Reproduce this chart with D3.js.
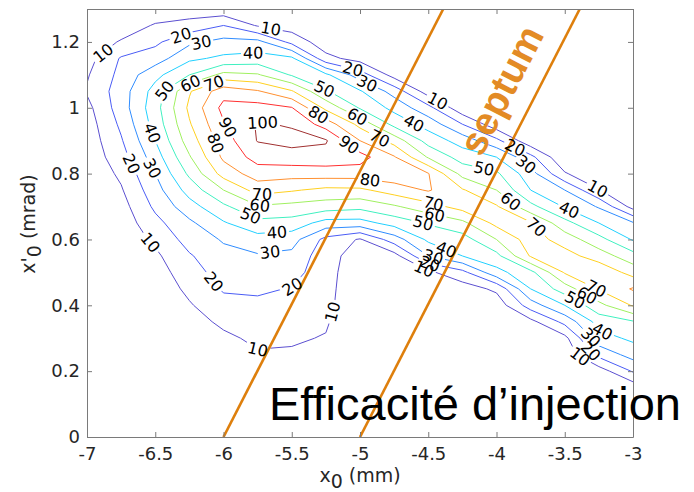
<!DOCTYPE html>
<html>
<head>
<meta charset="utf-8">
<script src="https://cdn.jsdelivr.net/npm/d3@7"></script>
<style>
  body { margin: 0; background: #fff; }
  svg { display: block; }
</style>
</head>
<body>
<svg id="canvas" width="694" height="492"></svg>
<script>
// sampling grid of the efficiency map: x0 (mm) and x'0 (mrad)
var gridX = [-7, -6.75, -6.5, -6.25, -6, -5.75, -5.5, -5.25, -5, -4.75, -4.5, -4.25, -4, -3.75, -3.5, -3.25, -3];
var gridY = [0, 0.05, 0.1, 0.15, 0.2, 0.25, 0.3, 0.35, 0.4, 0.45, 0.5, 0.55, 0.6, 0.65,
  0.7, 0.75, 0.8, 0.85, 0.9, 0.95, 1, 1.05, 1.1, 1.15, 1.2, 1.25, 1.3];

// injection efficiency (%), one column per x0, from x'0 = 0 upwards
var effCols = [
  [0,0,0,0,0,0,0,0,0,0,0,0,1,1,1,2,2,3,4,5,7,11,9,6,3,1,0],
  [0,0,0,0,0,0,0,0,0,1,1,2,3,4,6,9,12,16,19,22,25,25,23,21,11,4,0],
  [0,0,0,0,0,0,1,1,2,3,5,8,12,17,22,26,30,35,40,44,46,44,37,25,18,11,3],
  [0,0,0,0,1,2,4,6,9,12.5,16,19,24,28,36,44,52,59,65,69,72,69,50,38,28,14,4],
  [0,0,0,1,3,5,8,12,17,21,24,27,31,39,48,60,74,82,85,89,93,86,63,42,33,20,3],
  [0,0,1,3,5,9,12,15,18,21.5,25,29,36,47,59,74,85,94,100.5,101,94,81,61,44,33,9,2],
  [0,0,2,4,7,9,11,14,17,19.5,24,27.5,34,46,57,71,84,96,103,99,90.5,71,49,42,17,5,1],
  [0,0,1,3,5,7,9.5,11,12.5,13,13.5,14,17,36,55,67.5,85,96,101,85.5,67.4,51,42,13,4,1,0],
  [0,0,0,0,0,1,1.5,2,2.5,3,3.5,5,9,36,53,68,85,94,80,67,49,41,25,6,2,0,0],
  [0,0,0,0,0,0,0,0,1,2,3,6,25,44,58.7,74.7,87,81,66,47,37,26,6,3,1,0,0],
  [0,0,0,0,0,0,0,1,2,4,8,30,42,51,66,81,80.5,59,46,36,23,5,3,1,0,0,0],
  [0,0,0,0,0,0,0,1,2,5,17,40,45.5,57.5,74,71,56.7,45.6,35.8,20,3,1,0,0,0,0,0],
  [0,0,0,0,0,0,1,2,4,12,36.7,47,60,73,71,60,51.7,40,22.6,4,0,0,0,0,0,0,0],
  [0,0,0,0,0,1,3,7,25,40,47,71,75,71,53,40,34,23,3,0,0,0,0,0,0,0,0],
  [0,0,0,0,1,3,7,23,40,55,71,74,65.5,53.5,39,30,11,1,0,0,0,0,0,0,0,0,0],
  [0,0,1,2,5,23,36,44,57,71,78,65,53.5,40,29,10.5,1,0,0,0,0,0,0,0,0,0,0],
  [0,1,2,4,21,34,42,49,71,81,66,54,39,31,6,1,0,0,0,0,0,0,0,0,0,0,0]
];

var levels = [10, 20, 30, 40, 50, 60, 70, 80, 90, 100];
var levelColors = ['#5b4fd0', '#4a5cf5', '#2f8cff', '#22d0ff', '#40f0c0',
  '#a0f060', '#ffd020', '#ff9030', '#ff3030', '#a03030'];

var xTicks = [-7, -6.5, -6, -5.5, -5, -4.5, -4, -3.5, -3];
var xTickLabels = ['-7', '-6.5', '-6', '-5.5', '-5', '-4.5', '-4', '-3.5', '-3'];
var yTicks = [0, 0.2, 0.4, 0.6, 0.8, 1, 1.2];
var yTickLabels = ['0', '0.2', '0.4', '0.6', '0.8', '1', '1.2'];

// septum edges, from the bottom of the plot to the top
var septum = [[[-6, 0], [-4.39, 1.3]], [[-5, 0], [-3.39, 1.3]]];

// where the contour labels sit: x0, x'0, level
var labelAnchors = [
  [-6.868, 1.159, 10], [-6.319, 1.229, 20], [-6.172, 1.214, 30], [-5.659, 1.229, 10],
  [-5.784, 1.175, 40], [-6.443, 1.059, 50], [-6.245, 1.077, 60], [-6.084, 1.09, 70],
  [-5.967, 0.941, 90], [-6.062, 0.892, 80], [-5.711, 0.965, 100], [-5.33, 0.962, 80],
  [-5.271, 1.047, 50], [-5.051, 1.12, 20], [-4.949, 1.074, 30], [-5.022, 0.971, 60],
  [-5.073, 0.892, 90], [-4.89, 0.88, 70], [-4.927, 0.78, 80], [-4.612, 0.947, 40],
  [-4.451, 1.005, 10], [-6.524, 0.923, 40], [-6.524, 0.816, 30], [-6.663, 0.832, 20],
  [-6.516, 0.598, 10], [-6.077, 0.47, 20], [-5.718, 0.734, 70], [-5.733, 0.698, 60],
  [-5.806, 0.668, 50], [-5.608, 0.619, 40], [-5.659, 0.561, 30], [-5.491, 0.455, 20],
  [-5.747, 0.258, 10], [-5.168, 0.376, 10], [-4.465, 0.704, 70], [-4.451, 0.68, 60],
  [-4.538, 0.649, 50], [-4.363, 0.574, 40], [-4.465, 0.546, 30], [-4.524, 0.516, 10],
  [-4.49, 0.522, 20], [-3.879, 0.865, 20], [-3.777, 0.832, 30], [-4.099, 0.801, 50],
  [-3.879, 0.725, 60], [-3.733, 0.628, 70], [-3.264, 0.75, 10], [-3.462, 0.695, 40],
  [-3.264, 0.455, 70], [-3.39, 0.39, 60], [-3.46, 0.39, 50], [-3.22, 0.325, 40],
  [-3.33, 0.294, 30], [-3.3, 0.264, 20], [-3.37, 0.258, 10]
];

var W = 694, H = 492,
  pLeft = 87, pRight = 633, pTop = 9, pBottom = 437;

var svg = d3.select('#canvas');
var x = d3.scaleLinear().domain([-7, -3]).range([pLeft, pRight]);
var y = d3.scaleLinear().domain([0, 1.3]).range([pBottom, pTop]);

var nx = gridX.length, ny = gridY.length;
var values = [];
for (var j = 0; j < ny; j++)
  for (var i = 0; i < nx; i++)
    values.push(effCols[i][j]);

var xStep = (gridX[nx - 1] - gridX[0]) / (nx - 1),
  yStep = (gridY[ny - 1] - gridY[0]) / (ny - 1);
// d3.contours puts sample i at i + 0.5
function gx(g) { return x(gridX[0] + (g - 0.5) * xStep); }
function gy(g) { return y(gridY[0] + (g - 0.5) * yStep); }

var contours = d3.contours().size([nx, ny]).thresholds(levels)(values);
var path = d3.geoPath(d3.geoTransform({
  point: function(px, py) { this.stream.point(gx(px), gy(py)); }
}));

var defs = svg.append('defs');
defs.append('clipPath').attr('id', 'plot-clip')
  .append('rect')
  .attr('x', pLeft).attr('y', pTop)
  .attr('width', pRight - pLeft).attr('height', pBottom - pTop);

var plot = svg.append('g').attr('clip-path', 'url(#plot-clip)');

plot.selectAll('path.level')
  .data(contours)
  .join('path')
  .attr('class', 'level')
  .attr('d', path)
  .attr('fill', 'none')
  .attr('stroke', function(d, i) { return levelColors[i]; })
  .attr('stroke-width', 1)
  .attr('stroke-linejoin', 'round')
  .attr('mask', function(d, i) { return 'url(#gap-' + i + ')'; });

plot.selectAll('line.septum')
  .data(septum)
  .join('line')
  .attr('class', 'septum')
  .attr('x1', function(d) { return x(d[0][0]); })
  .attr('y1', function(d) { return y(d[0][1]); })
  .attr('x2', function(d) { return x(d[1][0]); })
  .attr('y2', function(d) { return y(d[1][1]); })
  .attr('stroke', '#de7f0c')
  .attr('stroke-width', 2.6);

// contour rings in pixels, for placing the labels along them
var lineSets = contours.map(function(c) {
  var lines = [];
  c.coordinates.forEach(function(poly) {
    poly.forEach(function(ring) {
      lines.push(ring.map(function(p) { return [gx(p[0]), gy(p[1])]; }));
    });
  });
  return lines;
});

function inPlot(p) {
  return p[0] >= pLeft && p[0] <= pRight && p[1] >= pTop && p[1] <= pBottom;
}

function walk(pts, k, t, dist) {
  var p = [pts[k][0] + t * (pts[k + 1][0] - pts[k][0]), pts[k][1] + t * (pts[k + 1][1] - pts[k][1])];
  var step = dist > 0 ? 1 : -1, idx = dist > 0 ? k + 1 : k, rem = Math.abs(dist);
  while (idx >= 0 && idx < pts.length) {
    var q = pts[idx], d = Math.hypot(q[0] - p[0], q[1] - p[1]);
    if (d >= rem && d > 0) return [p[0] + (q[0] - p[0]) * rem / d, p[1] + (q[1] - p[1]) * rem / d];
    rem -= d; p = q; idx += step;
  }
  return p;
}

var placed = labelAnchors.map(function(a) {
  var li = levels.indexOf(a[2]), px = x(a[0]), py = y(a[1]);
  var best = { d: Infinity };
  lineSets[li].forEach(function(pts) {
    for (var k = 0; k < pts.length - 1; k++) {
      var p0 = pts[k], p1 = pts[k + 1];
      if (!inPlot(p0) || !inPlot(p1)) continue;
      var vx = p1[0] - p0[0], vy = p1[1] - p0[1], L2 = vx * vx + vy * vy;
      var t = L2 ? Math.max(0, Math.min(1, ((px - p0[0]) * vx + (py - p0[1]) * vy) / L2)) : 0;
      var qx = p0[0] + t * vx, qy = p0[1] + t * vy, d = Math.hypot(px - qx, py - qy);
      if (d < best.d) best = { d: d, pts: pts, k: k, t: t, x: qx, y: qy };
    }
  });
  var cx = px, cy = py, ang = 0;
  if (best.pts) {
    var b = walk(best.pts, best.k, best.t, -9), f = walk(best.pts, best.k, best.t, 9);
    ang = Math.atan2(f[1] - b[1], f[0] - b[0]) * 180 / Math.PI;
    if (ang > 90) ang -= 180;
    if (ang < -90) ang += 180;
    if (best.d < 25) { cx = best.x; cy = best.y; }
  }
  return { level: a[2], li: li, x: cx, y: cy, angle: ang };
});

svg.append('g')
  .selectAll('text')
  .data(placed)
  .join('text')
  .attr('transform', function(d) { return 'translate(' + d.x + ',' + d.y + ')rotate(' + d.angle + ')'; })
  .attr('text-anchor', 'middle')
  .attr('dy', '0.36em')
  .style('font-family', '"DejaVu Sans", sans-serif')
  .style('font-size', '16px')
  .attr('fill', '#000')
  .text(function(d) { return d.level; })
  .each(function(d) { d.w = this.getComputedTextLength(); });

// gaps in the lines under their labels
levels.forEach(function(L, i) {
  var m = defs.append('mask').attr('id', 'gap-' + i)
    .attr('maskUnits', 'userSpaceOnUse')
    .attr('x', 0).attr('y', 0).attr('width', W).attr('height', H);
  m.append('rect').attr('width', W).attr('height', H).attr('fill', '#fff');
  m.selectAll('rect.hole')
    .data(placed.filter(function(p) { return p.li === i; }))
    .join('rect')
    .attr('class', 'hole')
    .attr('x', function(d) { return -d.w / 2 - 2; })
    .attr('y', -7)
    .attr('width', function(d) { return d.w + 4; })
    .attr('height', 14)
    .attr('transform', function(d) { return 'translate(' + d.x + ',' + d.y + ')rotate(' + d.angle + ')'; })
    .attr('fill', '#000');
});

// axes, box on, ticks pointing in
function styleAxis(g) {
  g.selectAll('.domain').attr('stroke', '#7a7a7a');
  g.selectAll('.tick line').attr('stroke', '#7a7a7a');
  g.selectAll('.tick text')
    .attr('fill', '#262626')
    .style('font-family', '"DejaVu Sans", sans-serif')
    .style('font-size', '18px');
}

svg.append('g')
  .attr('transform', 'translate(0,' + pBottom + ')')
  .call(d3.axisBottom(x).tickValues(xTicks)
    .tickFormat(function(d, i) { return xTickLabels[i]; })
    .tickSizeInner(-5).tickSizeOuter(0).tickPadding(10))
  .call(styleAxis);

svg.append('g')
  .attr('transform', 'translate(0,' + pTop + ')')
  .call(d3.axisTop(x).tickValues(xTicks).tickFormat('')
    .tickSizeInner(-5).tickSizeOuter(0))
  .call(styleAxis);

svg.append('g')
  .attr('transform', 'translate(' + pLeft + ',0)')
  .call(d3.axisLeft(y).tickValues(yTicks)
    .tickFormat(function(d, i) { return yTickLabels[i]; })
    .tickSizeInner(-5).tickSizeOuter(0).tickPadding(7))
  .call(styleAxis);

svg.append('g')
  .attr('transform', 'translate(' + pRight + ',0)')
  .call(d3.axisRight(y).tickValues(yTicks).tickFormat('')
    .tickSizeInner(-5).tickSizeOuter(0))
  .call(styleAxis);

// axis titles
var xt = svg.append('text')
  .attr('x', (pLeft + pRight) / 2).attr('y', 482)
  .attr('text-anchor', 'middle')
  .attr('fill', '#262626')
  .style('font-family', '"DejaVu Sans", sans-serif')
  .style('font-size', '19px');
xt.append('tspan').text('x');
xt.append('tspan').attr('dy', 6).text('0');
xt.append('tspan').attr('dy', -6).text(' (mm)');

var yt = svg.append('text')
  .attr('transform', 'translate(35,' + ((pTop + pBottom) / 2 + 1) + ')rotate(-90)')
  .attr('text-anchor', 'middle')
  .attr('fill', '#262626')
  .style('font-family', '"DejaVu Sans", sans-serif')
  .style('font-size', '19px');
yt.append('tspan').text('x\'');
yt.append('tspan').attr('dy', 6).text('0');
yt.append('tspan').attr('dy', -6).text(' (mrad)');

// slide annotations
svg.append('text')
  .attr('transform', 'translate(501,90)rotate(-62.8)')
  .attr('text-anchor', 'middle')
  .attr('dy', '0.35em')
  .attr('fill', '#e38b25')
  .style('font-family', '"Liberation Sans", Arial, sans-serif')
  .style('font-weight', 'bold')
  .style('font-size', '39px')
  .text('septum');

svg.append('text')
  .attr('x', 269).attr('y', 420)
  .attr('fill', '#000')
  .style('font-family', '"Liberation Sans", Arial, sans-serif')
  .style('font-size', '47px')
  .text('Efficacité d’injection');
</script>
</body>
</html>
